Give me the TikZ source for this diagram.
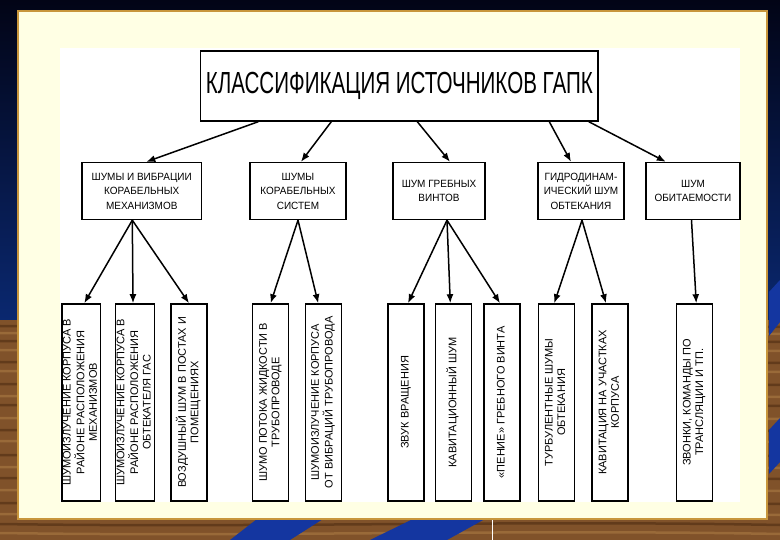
\documentclass[tikz,border=0pt]{standalone}
\usepackage{fontspec}
\setmainfont{Liberation Sans}
\newfontfamily\titlefont[FakeStretch=0.675]{Liberation Sans}
\newfontfamily\boxfont[FakeStretch=0.95]{Liberation Sans}
\usepackage{graphicx}
\usetikzlibrary{arrows.meta,calc}

\definecolor{navytop}{RGB}{2,4,22}
\definecolor{navybot}{RGB}{10,40,112}
\definecolor{woodbase}{RGB}{128,82,42}
\definecolor{wooddark}{RGB}{78,44,18}
\definecolor{woodlight}{RGB}{170,122,68}
\definecolor{stripeblue}{RGB}{20,54,160}
\definecolor{cream}{RGB}{255,255,228}
\definecolor{gold}{RGB}{200,150,60}

\newcommand{\vtext}[1]{\rotatebox{90}{\begin{tabular}{@{}c@{}}#1\end{tabular}}}

\tikzset{
  headbox/.style={draw, line width=1.4pt, fill=white, minimum width=397.5pt, minimum height=70pt, font=\titlefont\fontsize{30.5}{34}\selectfont},
  groupbox/.style={draw, line width=1.4pt, fill=white, minimum height=57pt, inner sep=0pt, align=center, font=\boxfont\fontsize{10.5}{14.5}\selectfont},
  leafbox/.style={draw, line width=1.4pt, fill=white, minimum width=36pt, minimum height=197pt, inner sep=0pt, font=\fontsize{11}{12.5}\selectfont},
  arr/.style={-{Latex[length=9pt,width=7pt]}, line width=1.5pt}
}

\begin{document}
\begin{tikzpicture}[x=1pt, y=-1pt]
  \useasboundingbox (0,0) rectangle (780,540);
  % slide background
  \fill[top color=navytop, bottom color=navybot] (0,0) rectangle (780,322);
  \fill[woodbase] (0,320) rectangle (780,540);
  \foreach \yy/\cc in {326/wooddark, 333/woodlight, 341/wooddark, 350/woodlight, 362/wooddark, 371/woodlight, 384/wooddark, 396/woodlight, 405/wooddark, 418/woodlight, 430/wooddark, 441/woodlight, 455/wooddark, 467/woodlight, 478/wooddark, 490/woodlight, 503/wooddark, 514/woodlight, 524/wooddark, 533/woodlight}
    \draw[\cc, line width=2.5pt, opacity=0.6] (0,\yy) .. controls (260,\yy+4) and (520,\yy-4) .. (780,\yy+1);
  \fill[stripeblue] (257,519) -- (323,519) -- (290,540) -- (230,540) -- cycle;
  \fill[stripeblue] (413,519) -- (485,519) -- (447,540) -- (370,540) -- cycle;
  \fill[stripeblue] (769,292) -- (780,280) -- (780,322) -- (769,336) -- cycle;
  \fill[stripeblue] (769,430) -- (780,418) -- (780,462) -- (769,474) -- cycle;
  \draw[white, line width=0.8pt] (492,519) -- (492,540);
  % panel
  \draw[fill=cream, draw=gold, line width=1.5pt] (18,11) rectangle (767,519);
  \fill[white] (60,48) rectangle (740,502);

  % boxes
  \node[headbox] (top) at (399.25,86) {КЛАССИФИКАЦИЯ ИСТОЧНИКОВ ГАПК};

  \node[groupbox, minimum width=119.5pt] (box1) at (141.75,191) {ШУМЫ И ВИБРАЦИИ\\КОРАБЕЛЬНЫХ\\МЕХАНИЗМОВ};
  \node[groupbox, minimum width=96pt] (box2) at (298,191) {ШУМЫ\\КОРАБЕЛЬНЫХ\\СИСТЕМ};
  \node[groupbox, minimum width=92pt] (box3) at (439,191) {ШУМ ГРЕБНЫХ\\ВИНТОВ};
  \node[groupbox, minimum width=86pt] (box4) at (581,191) {ГИДРОДИНАМ-\\ИЧЕСКИЙ ШУМ\\ОБТЕКАНИЯ};
  \node[groupbox, minimum width=94pt] (box5) at (693,191) {ШУМ\\ОБИТАЕМОСТИ};

  \node[leafbox] (b11) at (81.25,402.4) {\vtext{ШУМОИЗЛУЧЕНИЕ КОРПУСА В\\РАЙОНЕ РАСПОЛОЖЕНИЯ\\МЕХАНИЗМОВ}};
  \node[leafbox] (b12) at (135,402.4) {\vtext{ШУМОИЗЛУЧЕНИЕ КОРПУСА В\\РАЙОНЕ РАСПОЛОЖЕНИЯ\\ОБТЕКАТЕЛЯ ГАС}};
  \node[leafbox] (b13) at (189,402.4) {\vtext{ВОЗДУШНЫЙ ШУМ В ПОСТАХ И\\ПОМЕЩЕНИЯХ}};
  \node[leafbox] (b21) at (270.6,402.4) {\vtext{ШУМО ПОТОКА ЖИДКОСТИ В\\ТРУБОПРОВОДЕ}};
  \node[leafbox] (b22) at (323.2,402.4) {\vtext{ШУМОИЗЛУЧЕНИЕ КОРПУСА\\ОТ ВИБРАЦИЙ ТРУБОПРОВОДА}};
  \node[leafbox] (b31) at (406,402.4) {\vtext{ЗВУК ВРАЩЕНИЯ}};
  \node[leafbox] (b32) at (453.3,402.4) {\vtext{КАВИТАЦИОННЫЙ ШУМ}};
  \node[leafbox] (b33) at (502,402.4) {\vtext{«ПЕНИЕ» ГРЕБНОГО ВИНТА}};
  \node[leafbox] (b41) at (556.25,402.4) {\vtext{ТУРБУЛЕНТНЫЕ ШУМЫ\\ОБТЕКАНИЯ}};
  \node[leafbox] (b42) at (610,402.4) {\vtext{КАВИТАЦИЯ НА УЧАСТКАХ\\КОРПУСА}};
  \node[leafbox] (b51) at (694.25,402.4) {\vtext{ЗВОНКИ, КОМАНДЫ ПО\\ТРАНСЛЯЦИИ И ТП.}};

  % arrows
  \draw[arr] ([xshift=58.5pt]top.south west) -- ([xshift=65pt]box1.north west);
  \draw[arr] ([xshift=131.5pt]top.south west) -- ([xshift=3pt]box2.north);
  \draw[arr] ([xshift=217.5pt]top.south west) -- ([xshift=11pt]box3.north);
  \draw[arr] ([xshift=349.5pt]top.south west) -- ([xshift=-10pt]box4.north);
  \draw[arr] ([xshift=389pt]top.south west) -- ([xshift=20.5pt]box5.north west);

  \foreach \leaf/\dx in {b11/3, b12/-2, b13/0}
    \draw[arr] ([xshift=51pt]box1.south west) -- ([xshift=\dx pt]\leaf.north);
  \foreach \leaf/\dx in {b21/0, b22/-5}
    \draw[arr] (box2.south) -- ([xshift=\dx pt]\leaf.north);
  \foreach \leaf/\dx in {b31/2, b32/-3, b33/-2}
    \draw[arr] ([xshift=8pt]box3.south) -- ([xshift=\dx pt]\leaf.north);
  \foreach \leaf/\dx in {b41/-2, b42/-4}
    \draw[arr] ([xshift=1pt]box4.south) -- ([xshift=\dx pt]\leaf.north);
  \draw[arr] ([xshift=-1.5pt]box5.south) -- ([xshift=2pt]b51.north);
\end{tikzpicture}
\end{document}
